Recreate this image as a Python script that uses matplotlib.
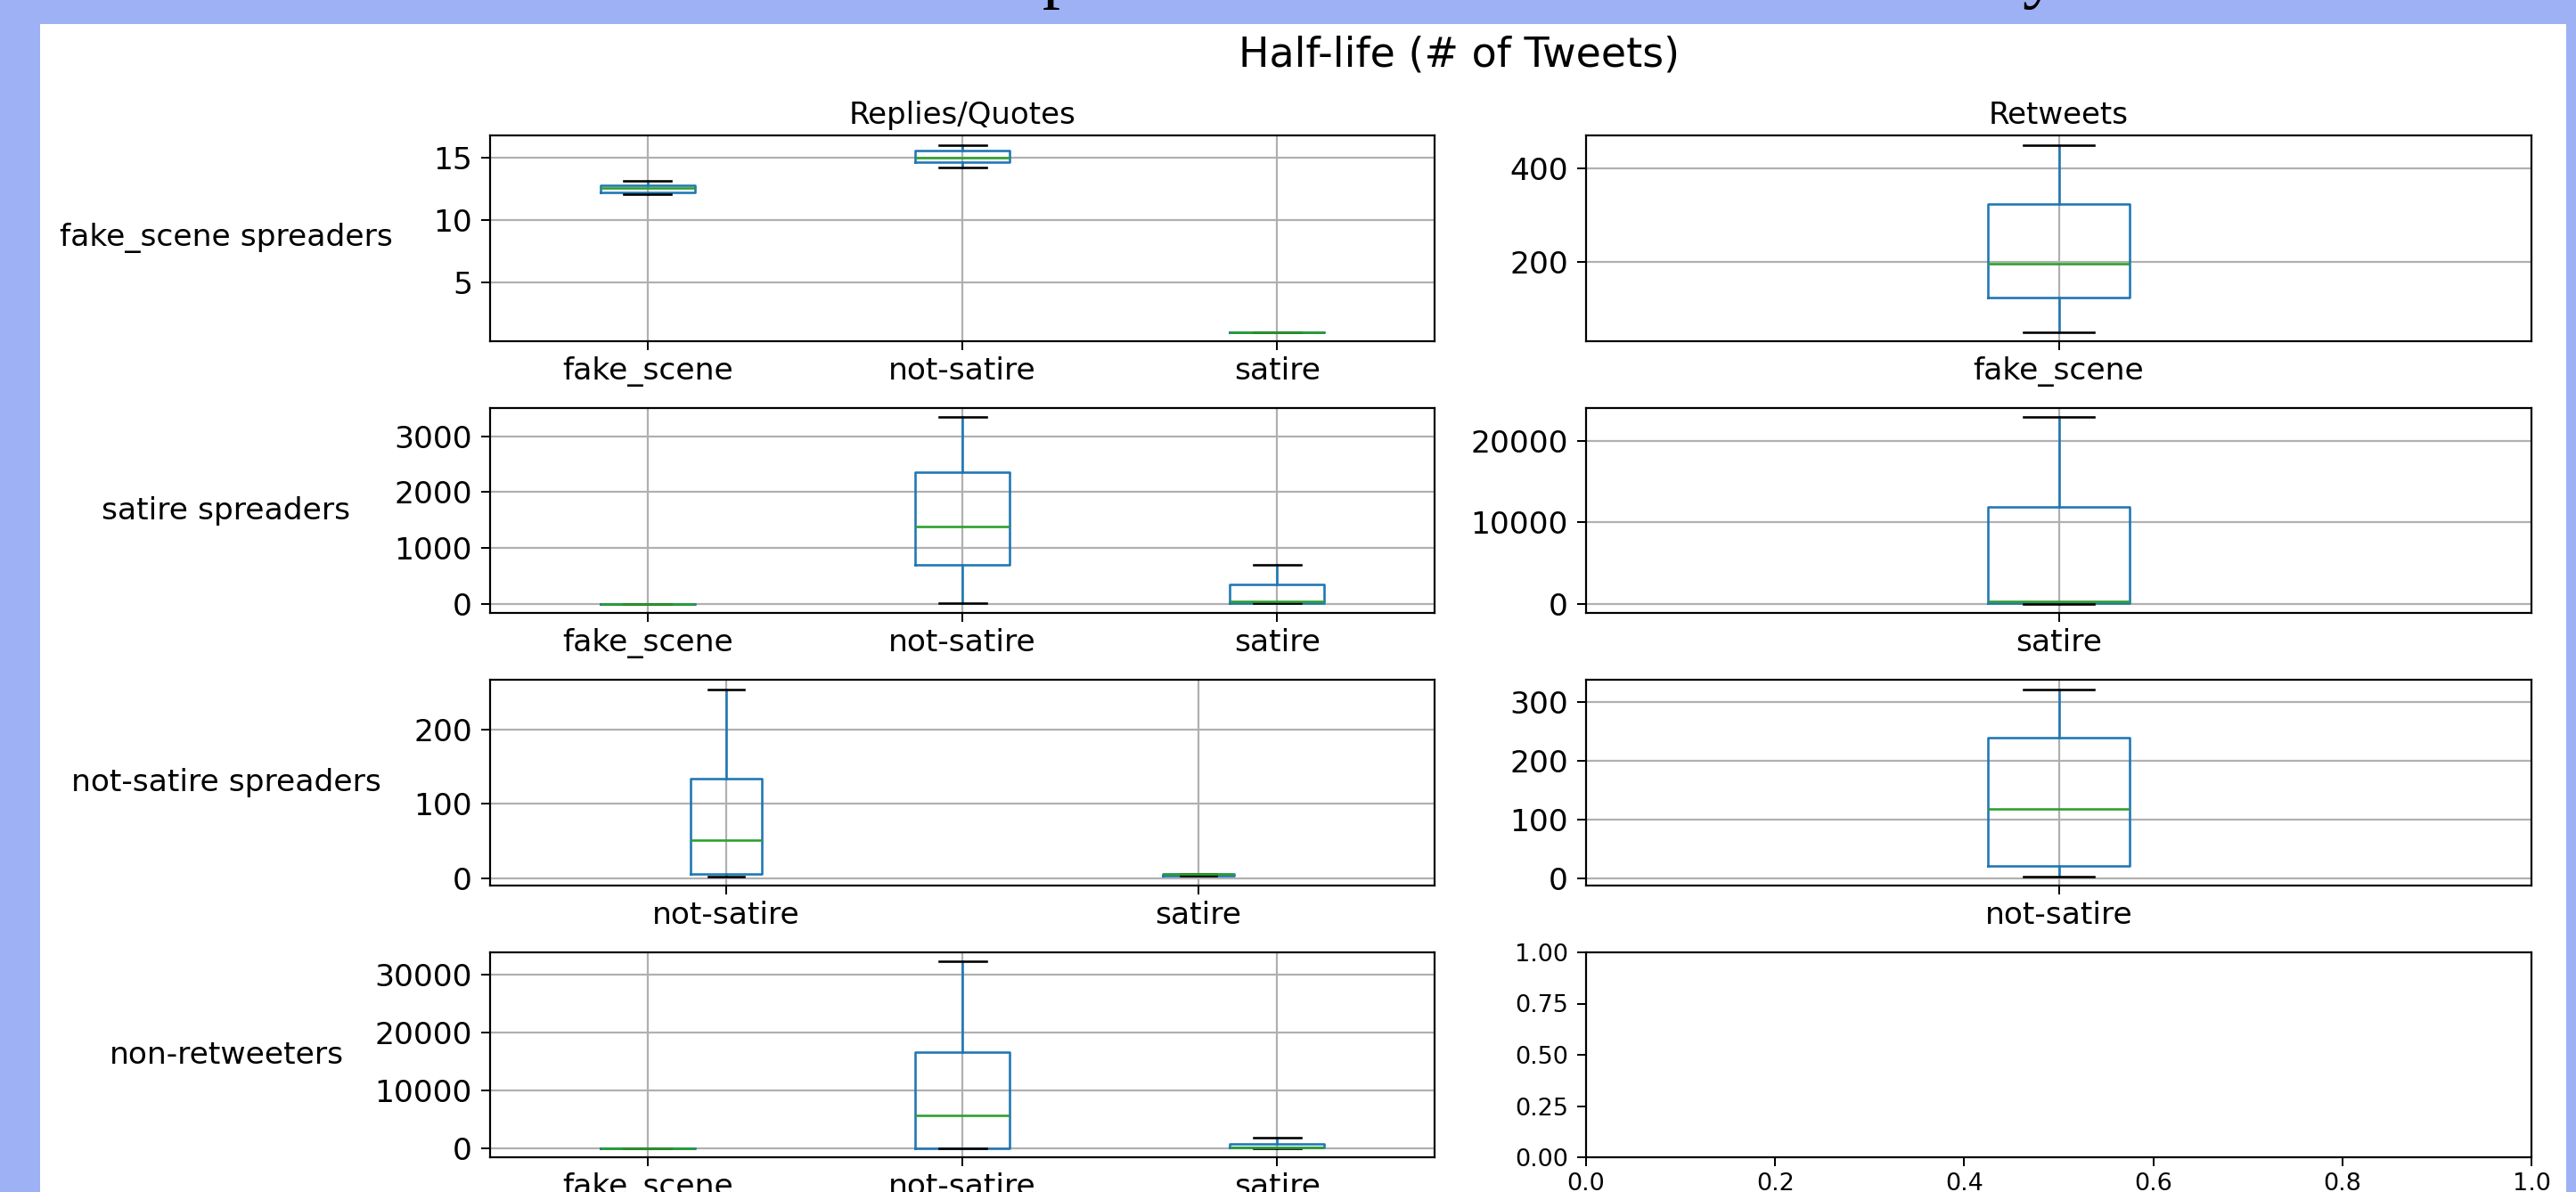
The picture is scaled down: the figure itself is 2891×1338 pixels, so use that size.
import matplotlib
matplotlib.use("Agg")
import matplotlib.pyplot as plt
from matplotlib.patches import Rectangle

# ---------------------------------------------------------------- data
row_labels = ["fake_scene spreaders", "satire spreaders",
              "not-satire spreaders", "non-retweeters"]
col_titles = ["Replies/Quotes", "Retweets"]
suptitle = "Half-life (# of Tweets)"

# box statistics per category: (whisker low, Q1, median, Q3, whisker high)
fake_rq_labels = ["fake_scene", "not-satire", "satire"]
fake_rq_stats = [(12.1, 12.25, 12.55, 12.8, 13.15),
                 (14.2, 14.65, 15.0, 15.55, 16.05),
                 (1.0, 1.0, 1.0, 1.0, 1.0)]
fake_rt_labels = ["fake_scene"]
fake_rt_stats = [(51, 124, 196, 323, 450)]

satire_rq_labels = ["fake_scene", "not-satire", "satire"]
satire_rq_stats = [(1, 1, 1, 1, 1),
                   (2, 704, 1378, 2359, 3339),
                   (2, 10, 38, 345, 695)]
satire_rt_labels = ["satire"]
satire_rt_stats = [(0, 40, 260, 11830, 22870)]

notsat_rq_labels = ["not-satire", "satire"]
notsat_rq_stats = [(2.8, 5.6, 51.7, 134.3, 254.4),
                   (3, 3, 6, 6, 6)]
notsat_rt_labels = ["not-satire"]
notsat_rt_stats = [(3.5, 21, 118.5, 240, 322)]

nonrt_rq_labels = ["fake_scene", "not-satire", "satire"]
nonrt_rq_stats = [(0, 0, 0, 0, 0),
                  (0, 0, 5625, 16560, 32230),
                  (0, 20, 150, 720, 1770)]

fake_rq_yticks = [5, 10, 15]
fake_rt_yticks = [200, 400]
satire_rq_yticks = [0, 1000, 2000, 3000]
satire_rt_yticks = [0, 10000, 20000]
notsat_rq_yticks = [0, 100, 200]
notsat_rt_yticks = [0, 100, 200, 300]
nonrt_rq_yticks = [0, 10000, 20000, 30000]
empty_xticks = [0.0, 0.2, 0.4, 0.6, 0.8, 1.0]
empty_yticks = [0.0, 0.25, 0.5, 0.75, 1.0]

# ---------------------------------------------------------------- style
W, H, DPI = 2891, 1338, 100
PT = 72 / DPI                      # points per pixel
BLUE_BG = "#9db1f4"
C_BOX = "#1f77b4"
C_MED = "#2ca02c"
LW = 2.6 * PT
GRID_LW = 2.2 * PT
FS_TICK = 34.5 * PT
FS_SMALL = 27 * PT
FS_LABEL = 34.5 * PT
FS_TITLE = 34 * PT
FS_SUP = 46 * PT

plt.rcParams["font.family"] = ["DejaVu Sans"]
plt.rcParams["axes.linewidth"] = 2.2 * PT

fig = plt.figure(figsize=(W / DPI, H / DPI), dpi=DPI, facecolor=BLUE_BG)

# white canvas of the figure inside the slide background
fig.add_artist(Rectangle((45 / W, 0), (2880 - 45) / W, 1 - 27 / H,
                         transform=fig.transFigure, facecolor="white",
                         edgecolor="none", zorder=-10))

# descenders of the slide heading above the figure
for ch, x in (("p", 1170), ("y", 2270)):
    fig.text(x / W, 1 + 6 / H, ch, family=["Liberation Serif", "DejaVu Serif"],
             fontsize=80 * PT, ha="left", va="baseline", color="black")


def px_axes(left, top, right, bottom):
    return fig.add_axes([left / W, 1 - bottom / H, (right - left) / W,
                         (bottom - top) / H])


col_x = [(550, 1610), (1780, 2841)]
row_y = [(152, 383), (458, 688), (763, 994), (1069, 1299)]


def style_ticks(ax, size):
    ax.tick_params(axis="both", labelsize=size, length=10 * PT,
                   width=2 * PT, colors="black")
    ax.tick_params(axis="x", pad=7 * PT)
    ax.tick_params(axis="y", pad=10 * PT)


def draw_box(ax, labels, stats, yticks):
    bstats = [dict(label=lab, whislo=s[0], q1=s[1], med=s[2], q3=s[3],
                   whishi=s[4], fliers=[]) for lab, s in zip(labels, stats)]
    ax.bxp(bstats, showfliers=False,
           boxprops=dict(color=C_BOX, linewidth=LW),
           whiskerprops=dict(color=C_BOX, linewidth=LW),
           capprops=dict(color="black", linewidth=LW),
           medianprops=dict(color=C_MED, linewidth=LW))
    ax.set_xlim(0.5, len(labels) + 0.5)
    ax.set_yticks(yticks)
    ax.grid(True, color="#b0b0b0", linewidth=GRID_LW)
    ax.set_axisbelow("line")
    style_ticks(ax, FS_TICK)


panels = [
    [(fake_rq_labels, fake_rq_stats, fake_rq_yticks),
     (fake_rt_labels, fake_rt_stats, fake_rt_yticks)],
    [(satire_rq_labels, satire_rq_stats, satire_rq_yticks),
     (satire_rt_labels, satire_rt_stats, satire_rt_yticks)],
    [(notsat_rq_labels, notsat_rq_stats, notsat_rq_yticks),
     (notsat_rt_labels, notsat_rt_stats, notsat_rt_yticks)],
    [(nonrt_rq_labels, nonrt_rq_stats, nonrt_rq_yticks),
     None],
]

for r, (top, bottom) in enumerate(row_y):
    for c, (left, right) in enumerate(col_x):
        ax = px_axes(left, top, right, bottom)
        spec = panels[r][c]
        if spec is None:
            ax.set_xticks(empty_xticks)
            ax.set_yticks(empty_yticks)
            style_ticks(ax, FS_SMALL)
        else:
            draw_box(ax, *spec)
        if r == 0:
            ax.set_title(col_titles[c], fontsize=FS_TITLE, pad=13 * PT)
        if c == 0:
            ax.set_ylabel(row_labels[r], rotation=0, fontsize=FS_LABEL,
                          ha="center", va="center")
            ax.yaxis.set_label_coords((254 - left) / (right - left), 0.5)

fig.text(1638 / W, 1 - 62 / H, suptitle, fontsize=FS_SUP,
         ha="center", va="center")

fig.savefig("out.png", dpi=DPI, facecolor=fig.get_facecolor())
